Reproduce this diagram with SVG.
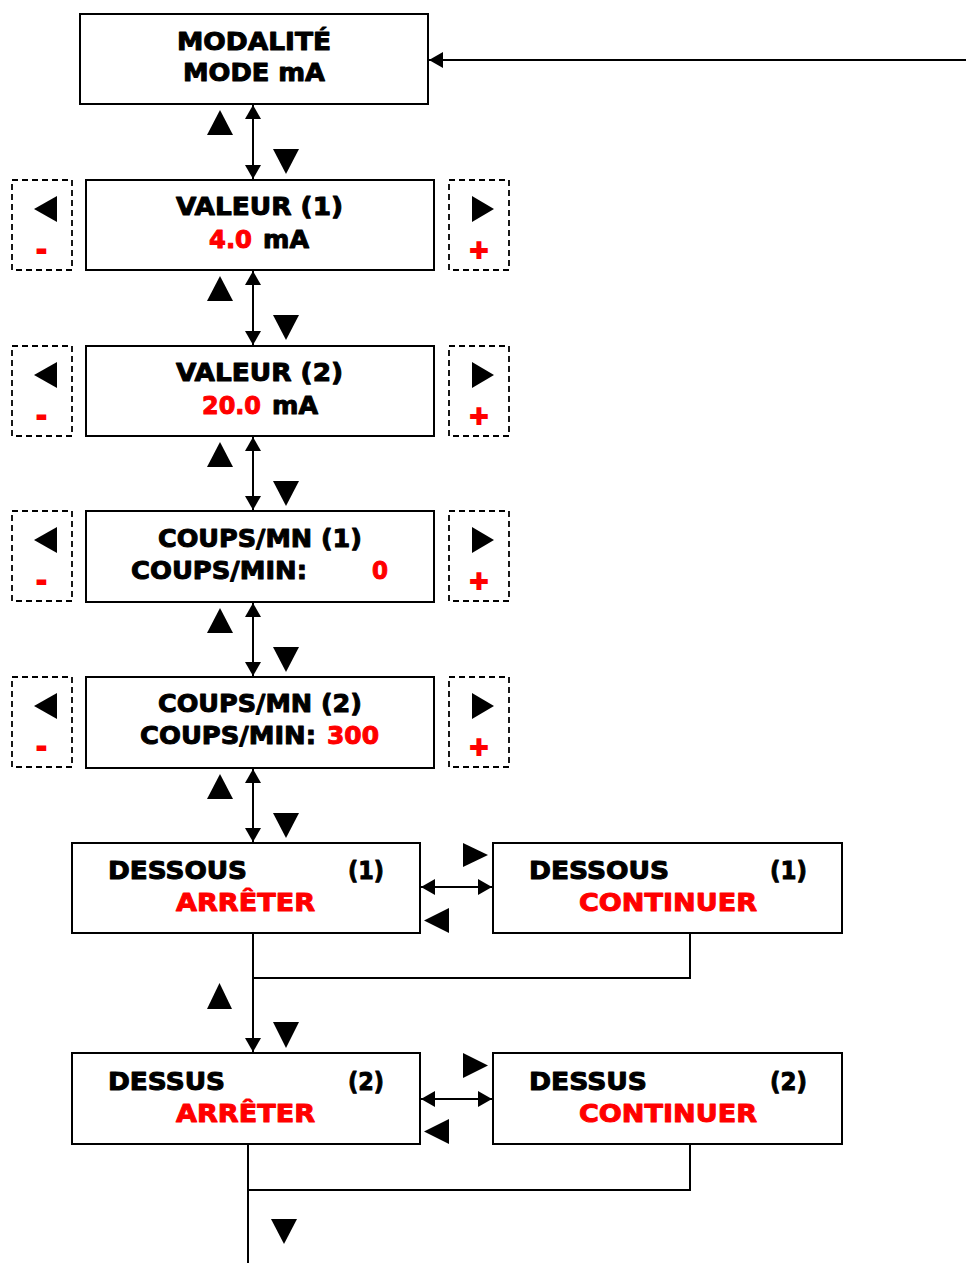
<svg xmlns="http://www.w3.org/2000/svg" width="966" height="1263" viewBox="0 0 966 1263">
<style>
.box{fill:#fff;stroke:#000;stroke-width:2}
.side{fill:none;stroke:#000;stroke-width:1.8;stroke-dasharray:6,4}
.t{font-family:"DejaVu Sans","Liberation Sans",sans-serif;font-weight:bold;font-size:25px;fill:#000;stroke:#000;stroke-width:1;stroke-linejoin:round}
.r{fill:#f00;stroke:#f00}
.pm{font-family:"DejaVu Sans","Liberation Sans",sans-serif;font-weight:bold;font-size:25px;fill:#f00;stroke:#f00;stroke-width:2;text-anchor:middle}
.c{fill:none;stroke:#000;stroke-width:2}
.tri{fill:#000}
</style>
<defs>
<marker id="ah" viewBox="0 0 14 16" markerWidth="14" markerHeight="16" refX="14" refY="8" orient="auto-start-reverse" markerUnits="userSpaceOnUse">
<path d="M0,0 L14,8 L0,16 z" fill="#000"/>
</marker>
</defs>

<g id="connectors">
<line class="c" x1="966" y1="60" x2="429" y2="60" marker-end="url(#ah)"/>
<line class="c" x1="253" y1="105" x2="253" y2="179" marker-start="url(#ah)" marker-end="url(#ah)"/>
<line class="c" x1="253" y1="271" x2="253" y2="345" marker-start="url(#ah)" marker-end="url(#ah)"/>
<line class="c" x1="253" y1="437" x2="253" y2="510" marker-start="url(#ah)" marker-end="url(#ah)"/>
<line class="c" x1="253" y1="603" x2="253" y2="676" marker-start="url(#ah)" marker-end="url(#ah)"/>
<line class="c" x1="253" y1="769" x2="253" y2="842" marker-start="url(#ah)" marker-end="url(#ah)"/>
<line class="c" x1="421" y1="887" x2="492" y2="887" marker-start="url(#ah)" marker-end="url(#ah)"/>
<line class="c" x1="253" y1="934" x2="253" y2="1052" marker-end="url(#ah)"/>
<polyline class="c" points="690,934 690,978 253,978"/>
<line class="c" x1="421" y1="1099" x2="492" y2="1099" marker-start="url(#ah)" marker-end="url(#ah)"/>
<line class="c" x1="248" y1="1145" x2="248" y2="1263"/>
<polyline class="c" points="690,1145 690,1190 248,1190"/>
</g>

<g id="key-arrows">
<polygon class="tri" points="207,135 233,135 220,110"/>
<polygon class="tri" points="273,149 299,149 286,174"/>
<polygon class="tri" points="207,301 233,301 220,276"/>
<polygon class="tri" points="273,315 299,315 286,340"/>
<polygon class="tri" points="207,467 233,467 220,442"/>
<polygon class="tri" points="273,481 299,481 286,506"/>
<polygon class="tri" points="207,633 233,633 220,608"/>
<polygon class="tri" points="273,647 299,647 286,672"/>
<polygon class="tri" points="207,799 233,799 220,774"/>
<polygon class="tri" points="273,813 299,813 286,838"/>
<polygon class="tri" points="463,843 463,867 488,855"/>
<polygon class="tri" points="449,908 449,933 424,920.5"/>
<polygon class="tri" points="207,1009 232,1009 219.5,983"/>
<polygon class="tri" points="273,1022 299,1022 286,1048"/>
<polygon class="tri" points="463,1053 463,1078 488,1065.5"/>
<polygon class="tri" points="449,1119 449,1144 424,1131.5"/>
<polygon class="tri" points="271,1219 297,1219 284,1244"/>
</g>

<g id="mode">
<rect class="box" x="80" y="14" width="348" height="90"/>
<text class="t" x="177" y="50" textLength="154" lengthAdjust="spacingAndGlyphs">MODALITÉ</text>
<text class="t" x="183" y="81" textLength="142" lengthAdjust="spacingAndGlyphs">MODE mA</text>
</g>

<g id="valeur1">
<rect class="side" x="12" y="180" width="60" height="90"/>
<polygon class="tri" points="57,196 57,222 34,209"/>
<text class="pm" x="41.5" y="258">-</text>
<rect class="box" x="86" y="180" width="348" height="90"/>
<text class="t" x="176" y="215" textLength="167" lengthAdjust="spacingAndGlyphs">VALEUR (1)</text>
<text class="t r" x="209" y="248" textLength="43" lengthAdjust="spacingAndGlyphs">4.0</text>
<text class="t" x="263" y="248" textLength="46" lengthAdjust="spacingAndGlyphs">mA</text>
<rect class="side" x="449" y="180" width="60" height="90"/>
<polygon class="tri" points="472,196 472,222 494,209"/>
<text class="pm" x="479" y="258">+</text>
</g>

<g id="valeur2">
<rect class="side" x="12" y="346" width="60" height="90"/>
<polygon class="tri" points="57,362 57,388 34,375"/>
<text class="pm" x="41.5" y="424">-</text>
<rect class="box" x="86" y="346" width="348" height="90"/>
<text class="t" x="176" y="381" textLength="167" lengthAdjust="spacingAndGlyphs">VALEUR (2)</text>
<text class="t r" x="202" y="414" textLength="59" lengthAdjust="spacingAndGlyphs">20.0</text>
<text class="t" x="272" y="414" textLength="46" lengthAdjust="spacingAndGlyphs">mA</text>
<rect class="side" x="449" y="346" width="60" height="90"/>
<polygon class="tri" points="472,362 472,388 494,375"/>
<text class="pm" x="479" y="424">+</text>
</g>

<g id="coups1">
<rect class="side" x="12" y="511" width="60" height="90"/>
<polygon class="tri" points="57,527 57,553 34,540"/>
<text class="pm" x="41.5" y="589">-</text>
<rect class="box" x="86" y="511" width="348" height="91"/>
<text class="t" x="158" y="547" textLength="204" lengthAdjust="spacingAndGlyphs">COUPS/MN (1)</text>
<text class="t" x="131" y="579" textLength="176" lengthAdjust="spacingAndGlyphs">COUPS/MIN:</text>
<text class="t r" x="372" y="579" textLength="16" lengthAdjust="spacingAndGlyphs">0</text>
<rect class="side" x="449" y="511" width="60" height="90"/>
<polygon class="tri" points="472,527 472,553 494,540"/>
<text class="pm" x="479" y="589">+</text>
</g>

<g id="coups2">
<rect class="side" x="12" y="677" width="60" height="90"/>
<polygon class="tri" points="57,693 57,719 34,706"/>
<text class="pm" x="41.5" y="755">-</text>
<rect class="box" x="86" y="677" width="348" height="91"/>
<text class="t" x="158" y="712" textLength="204" lengthAdjust="spacingAndGlyphs">COUPS/MN (2)</text>
<text class="t" x="140" y="744" textLength="176" lengthAdjust="spacingAndGlyphs">COUPS/MIN:</text>
<text class="t r" x="327" y="744" textLength="52" lengthAdjust="spacingAndGlyphs">300</text>
<rect class="side" x="449" y="677" width="60" height="90"/>
<polygon class="tri" points="472,693 472,719 494,706"/>
<text class="pm" x="479" y="755">+</text>
</g>

<g id="dessous-arreter">
<rect class="box" x="72" y="843" width="348" height="90"/>
<text class="t" x="108" y="879" textLength="139" lengthAdjust="spacingAndGlyphs">DESSOUS</text>
<text class="t" x="348" y="879" textLength="36" lengthAdjust="spacingAndGlyphs">(1)</text>
<text class="t r" x="176" y="911" textLength="139" lengthAdjust="spacingAndGlyphs">ARRÊTER</text>
</g>

<g id="dessous-continuer">
<rect class="box" x="493" y="843" width="349" height="90"/>
<text class="t" x="529" y="879" textLength="140" lengthAdjust="spacingAndGlyphs">DESSOUS</text>
<text class="t" x="770" y="879" textLength="37" lengthAdjust="spacingAndGlyphs">(1)</text>
<text class="t r" x="579" y="911" textLength="178" lengthAdjust="spacingAndGlyphs">CONTINUER</text>
</g>

<g id="dessus-arreter">
<rect class="box" x="72" y="1053" width="348" height="91"/>
<text class="t" x="108" y="1090" textLength="117" lengthAdjust="spacingAndGlyphs">DESSUS</text>
<text class="t" x="348" y="1090" textLength="36" lengthAdjust="spacingAndGlyphs">(2)</text>
<text class="t r" x="176" y="1122" textLength="139" lengthAdjust="spacingAndGlyphs">ARRÊTER</text>
</g>

<g id="dessus-continuer">
<rect class="box" x="493" y="1053" width="349" height="91"/>
<text class="t" x="529" y="1090" textLength="118" lengthAdjust="spacingAndGlyphs">DESSUS</text>
<text class="t" x="770" y="1090" textLength="37" lengthAdjust="spacingAndGlyphs">(2)</text>
<text class="t r" x="579" y="1122" textLength="178" lengthAdjust="spacingAndGlyphs">CONTINUER</text>
</g>
</svg>
